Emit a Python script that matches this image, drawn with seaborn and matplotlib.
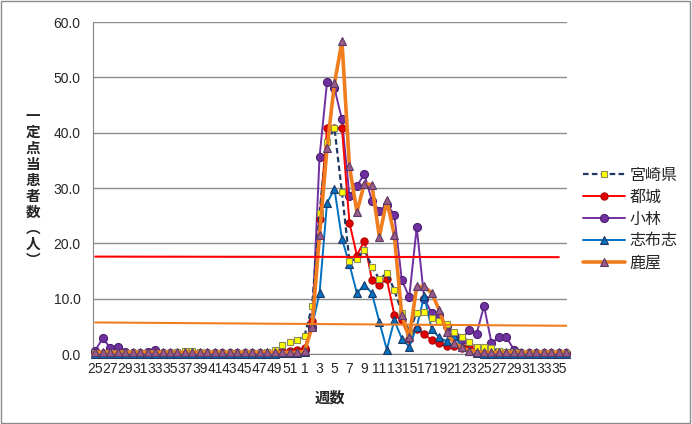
import numpy as np
import pandas as pd
import matplotlib
matplotlib.use("Agg")
import matplotlib.pyplot as plt
import seaborn as sns
from matplotlib.patches import Rectangle

# weeks 25-52 of the first season, then weeks 1-36
weeks = list(range(25, 53)) + list(range(1, 37))

miyazaki = [0.1, 0.1, 0.1, 0.1, 0.1, 0.1, 0.1, 0.1, 0.1, 0.1, 0.2, 0.3,
            0.6, 0.5, 0.4, 0.2, 0.1, 0.1, 0.1, 0.1, 0.1, 0.1, 0.1, 0.3,
            0.8, 1.6, 2.1, 2.5,
            3.3, 8.6, 25.5, 38.4, 40.8, 29.2, 16.8, 17.2, 18.8, 15.8, 13.5, 14.6,
            11.6, 7.5, 4.0, 7.5, 7.6, 6.5, 6.0, 5.5, 4.0, 3.1, 2.2, 1.3,
            1.2, 1.0, 0.6, 0.4, 0.3, 0.1, 0.1, 0.1, 0.1, 0.1, 0.1, 0.1]
miyakonojo = [0.1, 0.1, 0.1, 0.1, 0.1, 0.1, 0.1, 0.1, 0.1, 0.1, 0.1, 0.1,
              0.1, 0.1, 0.1, 0.1, 0.1, 0.1, 0.1, 0.1, 0.1, 0.1, 0.1, 0.2,
              0.3, 0.4, 0.6, 0.8,
              1.0, 6.0, 24.4, 40.8, 40.8, 40.8, 23.7, 17.8, 20.5, 13.4, 12.5, 13.5,
              7.1, 6.1, 2.8, 4.5, 3.6, 2.5, 2.0, 1.5, 1.5, 1.0, 1.7, 0.5,
              0.3, 0.2, 0.1, 0.1, 0.1, 0.1, 0.1, 0.1, 0.1, 0.1, 0.1, 0.1]
kobayashi = [0.6, 2.9, 1.1, 1.2, 0.4, 0.2, 0.2, 0.3, 0.8, 0.2, 0.1, 0.1,
             0.1, 0.1, 0.1, 0.1, 0.1, 0.1, 0.1, 0.1, 0.1, 0.1, 0.1, 0.1,
             0.2, 0.3, 0.3, 0.4,
             0.8, 4.9, 35.6, 49.1, 48.0, 42.4, 28.5, 30.4, 32.5, 27.7, 25.9, 27.0,
             25.2, 13.4, 10.3, 22.9, 10.0, 7.4, 7.0, 5.0, 3.4, 2.5, 4.4, 3.6,
             8.7, 2.0, 3.0, 3.0, 0.8, 0.2, 0.2, 0.2, 0.2, 0.2, 0.2, 0.2]
shibushi = [0.0, 0.0, 0.0, 0.0, 0.0, 0.0, 0.0, 0.0, 0.0, 0.0, 0.0, 0.0,
            0.0, 0.0, 0.0, 0.0, 0.0, 0.0, 0.0, 0.0, 0.0, 0.0, 0.0, 0.0,
            0.0, 0.1, 0.1, 0.1,
            0.3, 5.0, 11.0, 27.3, 29.8, 20.8, 16.2, 11.0, 12.5, 11.0, 5.8, 0.8,
            6.1, 2.8, 1.3, 4.9, 10.5, 4.5, 3.0, 2.3, 3.3, 1.3, 0.6, 0.1,
            0.0, 0.0, 0.0, 0.0, 0.0, 0.0, 0.0, 0.0, 0.0, 0.0, 0.0, 0.0]
kanoya = [0.3, 0.3, 0.3, 0.3, 0.3, 0.3, 0.3, 0.3, 0.3, 0.3, 0.3, 0.3,
          0.3, 0.3, 0.3, 0.3, 0.3, 0.3, 0.3, 0.3, 0.3, 0.3, 0.3, 0.3,
          0.3, 0.3, 0.3, 0.3,
          0.5, 4.9, 21.5, 37.2, 48.9, 56.5, 33.9, 25.7, 30.8, 30.6, 21.2, 27.8,
          21.5, 7.0, 3.0, 12.2, 12.2, 11.0, 8.0, 4.0, 2.0, 1.2, 0.6, 0.4,
          0.3, 0.3, 0.3, 0.3, 0.3, 0.3, 0.3, 0.3, 0.3, 0.3, 0.3, 0.3]

# two horizontal reference lines (level at left end, level at right end)
red_level = [17.6, 17.5]
orange_level = [5.7, 5.1]

sns.set_style("white")
plt.rcParams['font.family'] = ['Liberation Sans', 'Noto Sans CJK JP', 'DejaVu Sans']

pos = np.arange(len(weeks))
df = pd.DataFrame({'pos': pos, '宮崎県': miyazaki, '都城': miyakonojo,
                   '小林': kobayashi, '志布志': shibushi, '鹿屋': kanoya})

fig = plt.figure(figsize=(6.92, 4.24), dpi=100)
ax = fig.add_axes([93 / 692, 1 - 354 / 424, (567 - 93) / 692, (354 - 22) / 424])

styles = {
    '宮崎県': dict(color='#1F3864', lw=1.6, ls=(0, (2.5, 1.5)), marker='s', ms=4.8,
                 mfc='#FFFF00', mec='#8C8C5A', zorder=6),
    '都城': dict(color='#FF0000', lw=1.4, ls='-', marker='o', ms=5.2,
               mfc='#E00000', mec='#B00000', zorder=4),
    '小林': dict(color='#7030A0', lw=1.4, ls='-', marker='o', ms=5.8,
               mfc='#7030A0', mec='#4B2070', zorder=3),
    '志布志': dict(color='#0070C0', lw=1.4, ls='-', marker='^', ms=5.6,
                mfc='#0070C0', mec='#1F3864', zorder=5),
    '鹿屋': dict(color='#F07D1E', lw=2.6, ls='-', marker='^', ms=5.6,
               mfc='#9A5B86', mec='#5A3A6A', zorder=7),
}

for name, st in styles.items():
    sns.lineplot(data=df, x='pos', y=name, ax=ax, label=name,
                 color=st['color'], linewidth=st['lw'], linestyle=st['ls'],
                 marker=st['marker'], markersize=st['ms'],
                 markerfacecolor=st['mfc'], markeredgecolor=st['mec'],
                 markeredgewidth=0.8, zorder=st['zorder'], clip_on=False)

ax.plot([pos[0], pos[-2]], red_level, color='#FF0000', lw=1.5, zorder=8)
ax.plot([pos[0], pos[-1]], orange_level, color='#F07D1E', lw=1.5, zorder=8)

ax.set_xlim(-0.3, pos[-1] + 0.1)
ax.set_ylim(0, 60)
ax.set_yticks(np.arange(0, 61, 10))
ax.set_yticklabels([f"{v:.1f}" for v in np.arange(0, 61, 10)])
ax.set_xticks(pos)
ax.set_xticklabels([str(w) if i % 2 == 0 else '' for i, w in enumerate(weeks)])
ax.tick_params(axis='x', length=4, color='#868686', pad=2, labelsize=10)
ax.tick_params(axis='y', length=5, color='#868686', pad=4, labelsize=10)
ax.yaxis.grid(True, color='#8C8C8C', lw=1)
ax.xaxis.grid(False)
ax.set_axisbelow(True)
for s in ['top', 'right']:
    ax.spines[s].set_visible(False)
for s in ['left', 'bottom']:
    ax.spines[s].set_color('#868686')
ax.set_xlabel('')
ax.set_ylabel('')

fig.text(33 / 692, 1 - 188 / 424, '\n'.join('一定点当患者数︵人︶'),
         ha='center', va='center', fontsize=10.5, fontweight='bold',
         linespacing=1.0, family=['Noto Sans CJK JP', 'DejaVu Sans'])
fig.text(330 / 692, 1 - 398 / 424, '週数', ha='center', va='center',
         fontsize=11, fontweight='bold', family=['Noto Sans CJK JP', 'DejaVu Sans'])

leg = ax.legend(loc='upper left', bbox_to_anchor=(583 / 692, 1 - 167 / 424),
                bbox_transform=fig.transFigure, frameon=False, fontsize=11.5,
                handlelength=2.6, handletextpad=0.3, labelspacing=0.3,
                borderpad=0, borderaxespad=0)
for t in leg.get_texts():
    t.set_family(['Noto Sans CJK JP', 'DejaVu Sans'])

fig.patches.append(Rectangle((0.002, 0.003), 0.995, 0.994, transform=fig.transFigure,
                             fill=False, edgecolor='#8C8C8C', lw=1))

fig.savefig('out.png', dpi=100)
